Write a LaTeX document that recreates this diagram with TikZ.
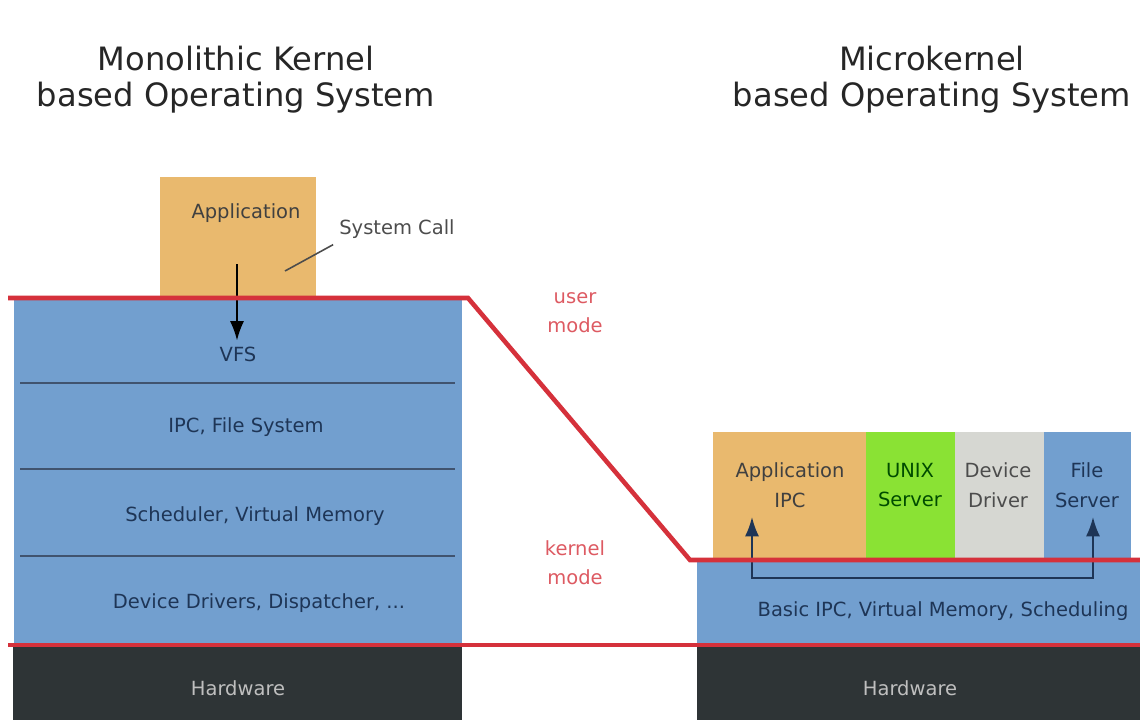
\documentclass[tikz,border=0pt]{standalone}
\usepackage{fontspec}
\setmainfont{DejaVu Sans}
\usetikzlibrary{arrows.meta}
\definecolor{layerblue}{HTML}{729FCF}
\definecolor{apporange}{HTML}{E9B96E}
\definecolor{srvgreen}{HTML}{8AE234}
\definecolor{drvgray}{HTML}{D6D7D2}
\definecolor{hwdark}{HTML}{2E3436}
\definecolor{modered}{HTML}{D5313B}
\definecolor{bluetext}{HTML}{1E3556}
\tikzset{
  title/.style={font=\fontsize{18.3}{20.5}\selectfont,align=center,text=black!85},
  layer/.style={font=\fontsize{11.1}{17}\selectfont,align=center,text=bluetext},
  hwlabel/.style={font=\fontsize{11.1}{17}\selectfont,text=black!25},
  modelabel/.style={font=\fontsize{11.1}{16.5}\selectfont,align=center,text=modered!80},
  modeline/.style={draw=modered,line width=2.6pt},
  sep/.style={draw=bluetext!85,line width=1.2pt},
  tip/.style={-{Latex[length=11pt,width=8pt]}},
  tips/.style={{Latex[length=11pt,width=8pt]}-{Latex[length=11pt,width=8pt]}}
}
\begin{document}
\begin{tikzpicture}[x=0.02cm,y=-0.02cm]
\useasboundingbox (0,0) rectangle (1140,720);
% titles
\node[title] (monotitle) at (236,80) {Monolithic Kernel\\based Operating System};
\node[title] (microtitle) at (932,80) {Microkernel\\based Operating System};
% monolithic stack
\fill[apporange] (160,177) rectangle (316,298);
\fill[layerblue] (14,298) rectangle (462,645);
\fill[hwdark] (13,645) rectangle (462,720);
\draw[sep] (20,383) -- (455,383);
\draw[sep] (20,469) -- (455,469);
\draw[sep] (20,556) -- (455,556);
\node[layer,text=black!75] (app) at (246,213) {Application};
\node[layer] (vfs) at (238,354) {VFS};
\node[layer] (ipcfs) at (246,427) {IPC, File System};
\node[layer] (sched) at (255,516) {Scheduler, Virtual Memory};
\node[layer] (drivers) at (259,603) {Device Drivers, Dispatcher, ...};
\node[hwlabel] (monohw) at (238,688) {Hardware};
\node[layer,text=black!70] (syscall) at (397,229) {System Call};
\coordinate (callfoot) at (285,271);
\draw[black!70,line width=0.9pt] (callfoot) -- (syscall.south west);
\coordinate (callstart) at (237,264);
\draw[tip,line width=0.9pt] (callstart) -- (vfs.north -| callstart);
% microkernel stack
\fill[apporange] (713,432) rectangle (866,560);
\fill[srvgreen] (866,432) rectangle (955,560);
\fill[drvgray] (955,432) rectangle (1044,560);
\fill[layerblue] (1044,432) rectangle (1131,560);
\fill[layerblue] (697,560) rectangle (1140,645);
\fill[hwdark] (697,645) rectangle (1140,720);
\node[layer,text=black!75] (appipc) at (790,485) {Application\\IPC};
\node[layer,text=green!30!black] (unix) at (910,485) {UNIX\\Server};
\node[layer,text=black!70] (devdrv) at (998,485) {Device\\Driver};
\node[layer] (filesrv) at (1087,485) {File\\Server};
\node[layer] (basic) at (943,611) {Basic IPC, Virtual Memory, Scheduling};
\node[hwlabel] (microhw) at (910,688) {Hardware};
\coordinate (ipcleft) at (752,517);
\coordinate (ipcright) at (1093,517);
\draw[tips,draw=bluetext,line width=1.1pt]
  (ipcleft) -- ++(0,61) -| (ipcright);
% mode boundaries
\draw[modeline] (8,298) -- (468,298) -- (690,560) -- (1140,560);
\draw[modeline] (8,645) -- (1140,645);
\node[modelabel] (usermode) at (575,313) {user\\mode};
\node[modelabel] (kernelmode) at (575,563) {kernel\\mode};
\end{tikzpicture}
\end{document}
